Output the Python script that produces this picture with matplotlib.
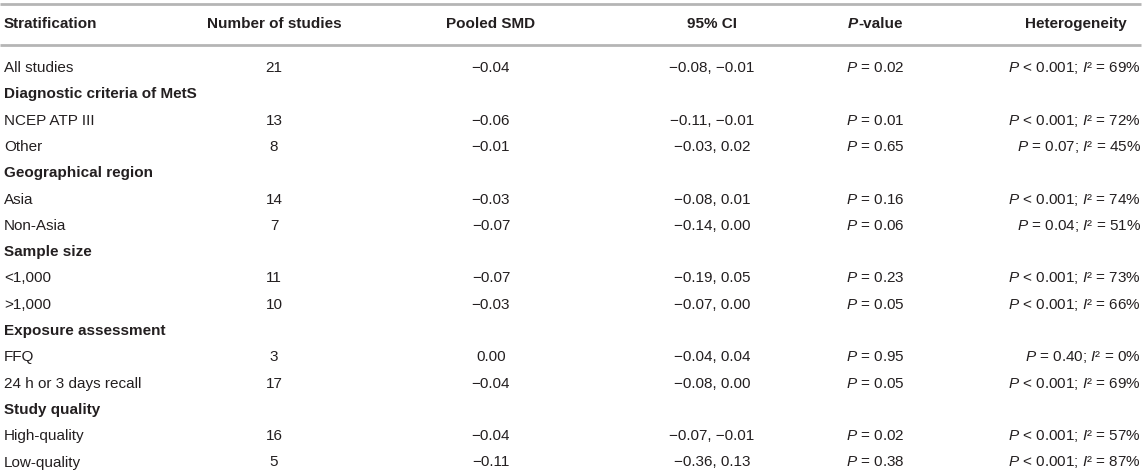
import matplotlib
matplotlib.use('Agg')
import matplotlib.pyplot as plt

plt.rcParams['font.family'] = ['Liberation Sans', 'DejaVu Sans']
plt.rcParams['mathtext.fontset'] = 'custom'
plt.rcParams['mathtext.rm'] = 'Liberation Sans'
plt.rcParams['mathtext.it'] = 'Liberation Sans:italic'
plt.rcParams['mathtext.bf'] = 'Liberation Sans:bold'

# table data (None = group heading row)
strata = ['All studies', 'Diagnostic criteria of MetS', 'NCEP ATP III', 'Other',
          'Geographical region', 'Asia', 'Non-Asia', 'Sample size', '<1,000', '>1,000',
          'Exposure assessment', 'FFQ', '24 h or 3 days recall', 'Study quality',
          'High-quality', 'Low-quality']
n_studies = [21, None, 13, 8, None, 14, 7, None, 11, 10, None, 3, 17, None, 16, 5]
pooled_smd = [-0.04, None, -0.06, -0.01, None, -0.03, -0.07, None, -0.07, -0.03,
              None, 0.00, -0.04, None, -0.04, -0.11]
ci_low = [-0.08, None, -0.11, -0.03, None, -0.08, -0.14, None, -0.19, -0.07,
          None, -0.04, -0.08, None, -0.07, -0.36]
ci_high = [-0.01, None, -0.01, 0.02, None, 0.01, 0.00, None, 0.05, 0.00,
           None, 0.04, 0.00, None, -0.01, 0.13]
p_values = [0.02, None, 0.01, 0.65, None, 0.16, 0.06, None, 0.23, 0.05,
            None, 0.95, 0.05, None, 0.02, 0.38]
het_p = ['< 0.001', None, '< 0.001', '= 0.07', None, '< 0.001', '= 0.04', None,
         '< 0.001', '< 0.001', None, '= 0.40', '< 0.001', None, '< 0.001', '< 0.001']
het_i2 = [69, None, 72, 45, None, 74, 51, None, 73, 66, None, 0, 69, None, 57, 87]


def num(v):
    return f'{v:.2f}'.replace('-', '\u2212')


W, H = 1145, 476
fig = plt.figure(figsize=(W / 100, H / 100), dpi=100)
ax = fig.add_axes([0, 0, 1, 1])
ax.set_xlim(0, W)
ax.set_ylim(H, 0)
ax.axis('off')

txt = '#231f20'
fs = 11
x_strat, x_n, x_smd, x_ci, x_p, x_het = 4, 274, 491, 712, 875, 1141

# rules
ax.plot([0, 1141], [4, 4], color='#b5b5b5', lw=2, solid_capstyle='butt')
ax.plot([0, 1141], [45, 45], color='#b5b5b5', lw=2, solid_capstyle='butt')

# header
hy = 24
kw = dict(fontsize=fs, color=txt, va='center', fontweight='bold')
ax.text(x_strat, hy, 'Stratification', ha='left', **kw)
ax.text(x_n, hy, 'Number of studies', ha='center', **kw)
ax.text(x_smd, hy, 'Pooled SMD', ha='center', **kw)
ax.text(x_ci, hy, '95% CI', ha='center', **kw)
tp = ax.text(x_p - 27, hy, 'P', ha='left', fontstyle='italic', **kw)
ax.annotate('-value', xy=(1, 0), xycoords=tp, ha='left', va='bottom',
            fontsize=fs, color=txt, fontweight='bold')
ax.text(1076, hy, 'Heterogeneity', ha='center', **kw)

# body
y0, dy = 68, 26.3
for i, name in enumerate(strata):
    y = y0 + i * dy
    if n_studies[i] is None:
        ax.text(x_strat, y, name, ha='left', va='center', fontsize=fs,
                color=txt, fontweight='bold')
        continue
    kw = dict(fontsize=fs, color=txt, va='center')
    ax.text(x_strat, y, name, ha='left', **kw)
    ax.text(x_n, y, str(n_studies[i]), ha='center', **kw)
    ax.text(x_smd, y, num(pooled_smd[i]), ha='center', **kw)
    ax.text(x_ci, y, f'{num(ci_low[i])}, {num(ci_high[i])}', ha='center', **kw)
    ax.text(x_p, y, f'$P$ = {p_values[i]:.2f}', ha='center', **kw)
    ax.text(x_het, y, f'$P$ {het_p[i]}; $I$\u00b2 = {het_i2[i]}%', ha='right', **kw)

fig.savefig('out.png', dpi=100)
